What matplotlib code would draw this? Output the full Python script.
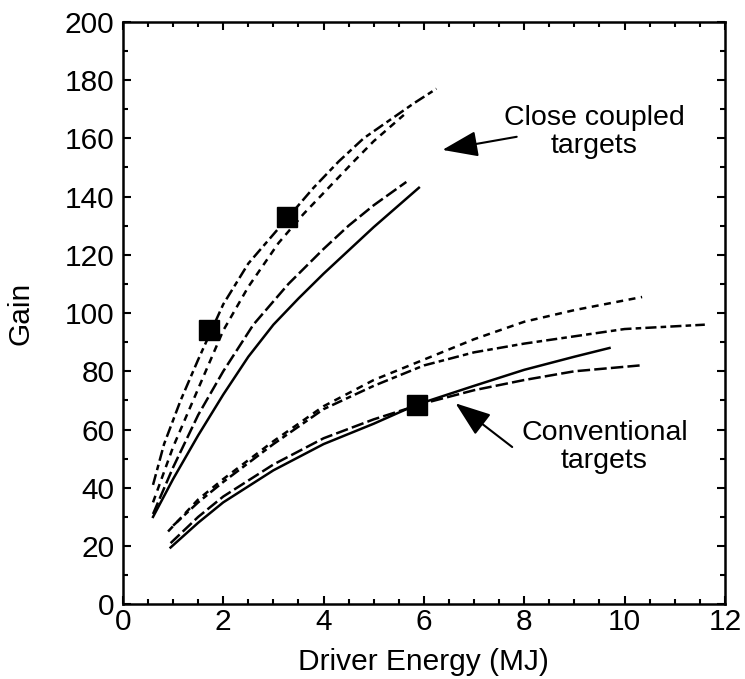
import matplotlib
matplotlib.use("Agg")
import matplotlib.pyplot as plt
from matplotlib.ticker import MultipleLocator

plt.rcParams["font.family"] = ["Liberation Sans", "DejaVu Sans"]
plt.rcParams["lines.scale_dashes"] = False

# Close coupled targets
cc_solid_x = [0.6, 1.0, 1.5, 2.0, 2.5, 3.0, 3.5, 4.0, 4.5, 5.0, 5.5, 5.9]
cc_solid_y = [30, 43, 58, 72, 85, 96, 105, 113.5, 121.5, 129.5, 137, 143]
cc_long_x = [0.6, 1.0, 1.5, 2.0, 2.6, 3.3, 4.0, 4.5, 5.0, 5.65]
cc_long_y = [31, 47, 65, 80, 96, 110, 122, 130, 137, 145]
cc_short_x = [0.6, 1.0, 1.5, 2.0, 2.5, 3.1, 3.6, 4.1, 4.6, 5.0, 5.6]
cc_short_y = [35, 54, 74, 94, 109, 124, 134, 143, 152, 159, 168]
cc_mixed_x = [0.6, 0.82, 1.15, 1.5, 2.0, 2.5, 3.0, 3.3, 3.8, 4.3, 4.8, 5.3, 5.8, 6.25]
cc_mixed_y = [41, 55, 70, 84, 103, 117, 127, 133, 143, 152, 160, 166, 172, 177]

# Conventional targets
cv_solid_x = [0.95, 1.5, 2.0, 3.0, 4.0, 5.0, 5.85, 7.0, 8.0, 9.0, 9.7]
cv_solid_y = [19.5, 28, 35, 46, 55, 62, 68.5, 75, 80.5, 85, 88]
cv_long_x = [0.95, 1.5, 2.0, 3.0, 4.0, 5.0, 6.0, 7.0, 8.0, 9.0, 10.3]
cv_long_y = [21, 30, 37, 48, 57, 63.5, 69, 73.5, 77, 80, 82]
cv_short_x = [0.9, 1.5, 2.0, 3.0, 4.0, 5.0, 6.0, 7.0, 8.0, 9.0, 10.35]
cv_short_y = [25, 36, 43, 56, 68, 77, 84, 91, 97, 101, 105.5]
cv_mixed_x = [1.0, 1.5, 2.0, 3.0, 4.0, 5.0, 6.0, 7.0, 8.0, 9.0, 10.0, 11.6]
cv_mixed_y = [27, 35, 42, 55, 67, 75, 82, 86.5, 89.5, 92, 94.5, 96]

mark_x = [1.72, 3.28, 5.87]
mark_y = [94, 133, 68.5]

fig = plt.figure(figsize=(7.45, 6.79), dpi=100)
ax = fig.add_axes([0.165, 0.110, 0.808, 0.858])

lw = 1.8
long_dash = (0, (9, 3))
short_dash = (0, (5, 4))
mixed_dash = (0, (8, 3, 4, 3))

for xs, ys, ls in [
    (cc_solid_x, cc_solid_y, "-"),
    (cc_long_x, cc_long_y, long_dash),
    (cc_short_x, cc_short_y, short_dash),
    (cc_mixed_x, cc_mixed_y, mixed_dash),
    (cv_solid_x, cv_solid_y, "-"),
    (cv_long_x, cv_long_y, long_dash),
    (cv_short_x, cv_short_y, short_dash),
    (cv_mixed_x, cv_mixed_y, mixed_dash),
]:
    ax.plot(xs, ys, color="black", lw=lw, linestyle=ls)

ax.plot(mark_x, mark_y, "s", color="black", markersize=15, linestyle="none")

# annotations
arrow = dict(arrowstyle="-|>,head_length=2.2,head_width=0.8",
             color="black", lw=1.5, shrinkA=0, shrinkB=0)
ax.annotate("", xy=(6.37, 156), xytext=(7.85, 160.5), arrowprops=arrow)
ax.text(9.4, 162, "Close coupled\ntargets", ha="center", va="center",
        fontsize=20.5, linespacing=1.1)
ax.annotate("", xy=(6.63, 69), xytext=(7.76, 54), arrowprops=arrow)
ax.text(9.6, 54, "Conventional\ntargets", ha="center", va="center",
        fontsize=20.5, linespacing=1.1)

ax.set_xlim(0, 12)
ax.set_ylim(0, 200)
ax.xaxis.set_major_locator(MultipleLocator(2))
ax.xaxis.set_minor_locator(MultipleLocator(0.5))
ax.yaxis.set_major_locator(MultipleLocator(20))
ax.yaxis.set_minor_locator(MultipleLocator(10))
ax.tick_params(which="both", direction="in", top=True, right=True,
               width=1.5, labelsize=21.5)
ax.tick_params(axis="x", pad=3)
ax.tick_params(axis="y", pad=6)
ax.tick_params(which="major", length=6)
ax.tick_params(which="minor", length=3.5)
for s in ax.spines.values():
    s.set_linewidth(1.8)

ax.set_xlabel("Driver Energy (MJ)", fontsize=21.5, labelpad=8)
ax.set_ylabel("Gain", fontsize=21.5, labelpad=22)

fig.savefig("out.png", dpi=100)
